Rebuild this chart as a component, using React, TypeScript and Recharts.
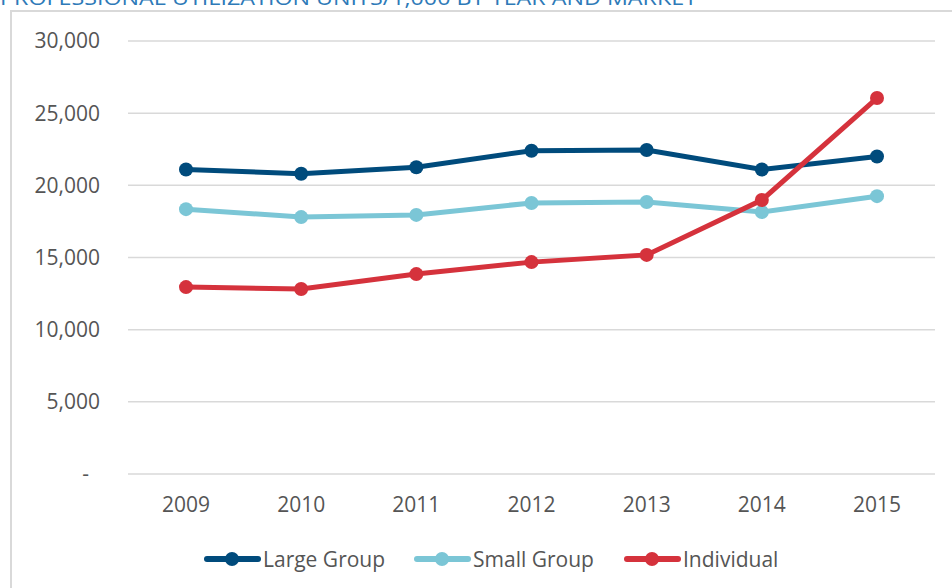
import React from "react";
import { LineChart, Line, XAxis, YAxis, CartesianGrid } from "recharts";

const years = ["2009", "2010", "2011", "2012", "2013", "2014", "2015"];
const largeGroup = [21100, 20800, 21250, 22400, 22450, 21100, 22000];
const smallGroup = [18350, 17800, 17950, 18780, 18850, 18150, 19250];
const individual = [12950, 12820, 13850, 14680, 15180, 18980, 26050];
const yTicks = [0, 5000, 10000, 15000, 20000, 25000, 30000];

const series = [
  { key: "large", name: "Large Group", color: "#004b7c", values: largeGroup },
  { key: "small", name: "Small Group", color: "#7bc6d6", values: smallGroup },
  { key: "individual", name: "Individual", color: "#d5323c", values: individual },
];

const data = years.map((y, i) => ({
  year: y,
  large: largeGroup[i],
  small: smallGroup[i],
  individual: individual[i],
}));

const fmt = (v: number) => (v === 0 ? "-\u00a0\u00a0" : v.toLocaleString("en-US"));

const tickStyle = { fill: "#555555", fontSize: 21, fontFamily: "'Open Sans', sans-serif" };

const legendX = [204, 414, 624];

export default function App() {
  return (
    <div style={{ position: "absolute", left: 0, top: 0, width: 952, height: 588, overflow: "hidden", background: "#fff" }}>
      <div
        style={{
          position: "absolute",
          left: 10,
          top: 10,
          width: 980,
          height: 600,
          border: "2px solid #d9d9d9",
          boxSizing: "border-box",
        }}
      />
      <svg style={{ position: "absolute", left: 0, top: 0 }} width={952} height={20}>
        <text
          x={0}
          y={5}
          fontSize={20}
          fontFamily="'Open Sans', sans-serif"
          fill="#2e7ab8"
          textLength={697}
          lengthAdjust="spacingAndGlyphs"
        >
          PROFESSIONAL UTILIZATION UNITS/1,000 BY YEAR AND MARKET
        </text>
      </svg>
      <div style={{ position: "absolute", left: 0, top: 0 }}>
        <LineChart width={952} height={588} data={data} margin={{ top: 41, right: 17, left: 0, bottom: 84 }}>
          <CartesianGrid vertical={false} stroke="#d9d9d9" strokeWidth={1.5} />
          <XAxis
            dataKey="year"
            axisLine={false}
            tickLine={false}
            tickSize={0}
            tickMargin={23}
            padding={{ left: 58, right: 58 }}
            tick={tickStyle}
            height={30}
          />
          <YAxis
            domain={[0, 30000]}
            ticks={yTicks}
            tickFormatter={fmt}
            axisLine={false}
            tickLine={false}
            tickSize={0}
            tickMargin={28}
            width={128}
            tick={tickStyle}
            interval={0}
          />
          {series.map((s) => (
            <Line
              key={s.key}
              dataKey={s.key}
              name={s.name}
              stroke={s.color}
              strokeWidth={5}
              dot={{ r: 7, fill: s.color, stroke: s.color, strokeWidth: 0 }}
              activeDot={false}
              isAnimationActive={false}
            />
          ))}
        </LineChart>
      </div>
      <svg style={{ position: "absolute", left: 0, top: 540 }} width={952} height={40}>
        {series.map((s, i) => (
          <g key={s.key} transform={`translate(${legendX[i]}, 19)`}>
            <line x1={3} y1={0} x2={54} y2={0} stroke={s.color} strokeWidth={6} strokeLinecap="round" />
            <circle cx={28} cy={0} r={7} fill={s.color} />
            <text x={59} y={7.5} fontSize={21} fill="#555555" fontFamily="'Open Sans', sans-serif">
              {s.name}
            </text>
          </g>
        ))}
      </svg>
    </div>
  );
}
